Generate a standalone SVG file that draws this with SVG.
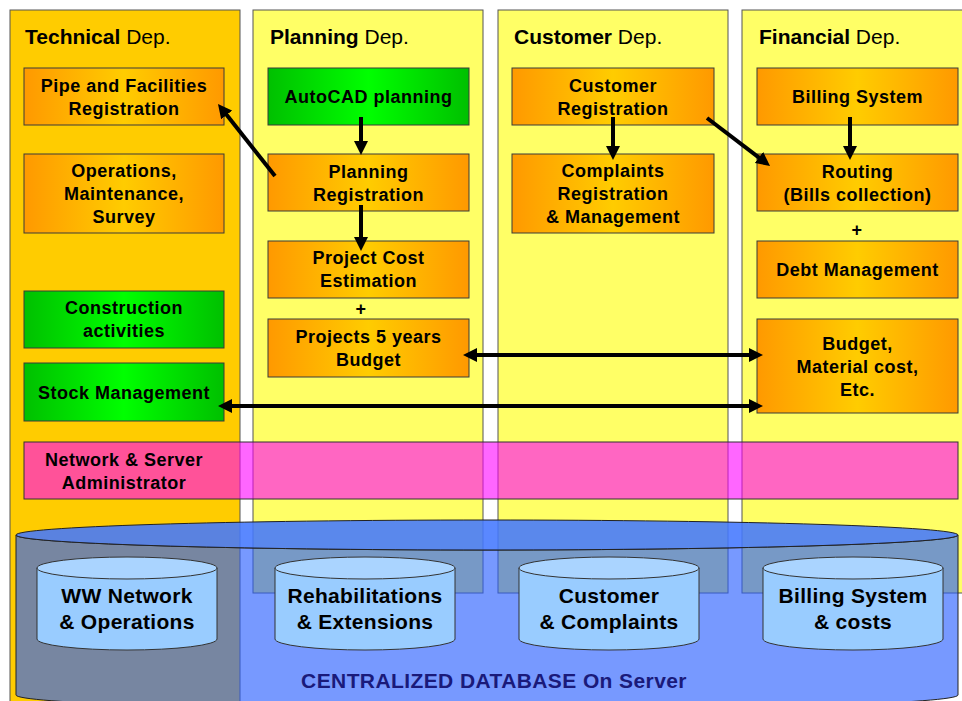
<svg xmlns="http://www.w3.org/2000/svg" width="962" height="701" viewBox="0 0 962 701">
<defs>
<linearGradient id="gOr" x1="0" y1="0" x2="1" y2="0">
<stop offset="0" stop-color="#FF9900"/><stop offset="0.5" stop-color="#FFCC00"/><stop offset="1" stop-color="#FF9900"/>
</linearGradient>
<linearGradient id="gGr" x1="0" y1="0" x2="1" y2="0">
<stop offset="0" stop-color="#00C000"/><stop offset="0.5" stop-color="#00FF00"/><stop offset="1" stop-color="#00C000"/>
</linearGradient>
<marker id="ah" markerUnits="userSpaceOnUse" markerWidth="14" markerHeight="14" viewBox="0 0 14 14" refX="3" refY="7" orient="auto-start-reverse">
<path d="M0,0 L14,7 L0,14 Z" fill="#000"/>
</marker>
<style>
.col{stroke:#555;stroke-width:1}
.box{stroke:#3a3a3a;stroke-width:1}
.or{fill:url(#gOr)}
.gr{fill:url(#gGr)}
.t{font-family:"Liberation Sans",Arial,sans-serif;font-weight:bold;font-size:18px;letter-spacing:0.5px;fill:#000;text-anchor:middle}
.h{font-family:"Liberation Sans",Arial,sans-serif;font-size:21px;fill:#000}
.h .b{font-weight:bold}
.db{font-family:"Liberation Sans",Arial,sans-serif;font-weight:bold;font-size:21px;letter-spacing:0.3px;fill:#000;text-anchor:middle}
.cen{font-family:"Liberation Sans",Arial,sans-serif;font-weight:bold;font-size:21px;letter-spacing:0.4px;fill:#1A1A7A;text-anchor:middle}
.arr{stroke:#000;stroke-width:4;fill:none}
.cyl{fill:#99CCFF;stroke:#333;stroke-width:1}
.cylt{fill:#AAD4FF;stroke:#333;stroke-width:1}
</style>
</defs>
<rect width="962" height="701" fill="#fff"/>

<g id="columns">
<rect id="col-technical" class="col" x="10" y="10" width="230" height="700" fill="#FFCC00"/>
<rect id="col-planning" class="col" x="253" y="10" width="230" height="583" fill="#FFFF66"/>
<rect id="col-customer" class="col" x="498" y="10" width="230" height="583" fill="#FFFF66"/>
<rect id="col-financial" class="col" x="742" y="10" width="230" height="583" fill="#FFFF66"/>
<text class="h" x="25" y="44"><tspan class="b">Technical</tspan> Dep.</text>
<text class="h" x="270" y="44"><tspan class="b">Planning</tspan> Dep.</text>
<text class="h" x="514" y="44"><tspan class="b">Customer</tspan> Dep.</text>
<text class="h" x="759" y="44"><tspan class="b">Financial</tspan> Dep.</text>
</g>

<g id="n-pipe"><rect class="box or" x="24" y="68" width="200" height="57"/>
<text class="t" x="124" y="91.5">Pipe and Facilities</text><text class="t" x="124" y="114.5">Registration</text></g>
<g id="n-operations"><rect class="box or" x="24" y="154" width="200" height="79"/>
<text class="t" x="124" y="177">Operations,</text><text class="t" x="124" y="200">Maintenance,</text><text class="t" x="124" y="223">Survey</text></g>
<g id="n-construction"><rect class="box gr" x="24" y="291" width="200" height="57"/>
<text class="t" x="124" y="314">Construction</text><text class="t" x="124" y="337">activities</text></g>
<g id="n-stock"><rect class="box gr" x="24" y="363" width="200" height="58"/>
<text class="t" x="124" y="398.5">Stock Management</text></g>

<g id="n-autocad"><rect class="box gr" x="268" y="68" width="201" height="57"/>
<text class="t" x="368.5" y="103">AutoCAD planning</text></g>
<g id="n-planreg"><rect class="box or" x="268" y="154" width="201" height="57"/>
<text class="t" x="368.5" y="177.5">Planning</text><text class="t" x="368.5" y="200.5">Registration</text></g>
<g id="n-projcost"><rect class="box or" x="268" y="241" width="201" height="57"/>
<text class="t" x="368.5" y="264">Project Cost</text><text class="t" x="368.5" y="287">Estimation</text></g>
<text class="t" x="361" y="315">+</text>
<g id="n-proj5"><rect class="box or" x="268" y="319" width="201" height="58"/>
<text class="t" x="368.5" y="343">Projects 5 years</text><text class="t" x="368.5" y="366">Budget</text></g>

<g id="n-custreg"><rect class="box or" x="512" y="68" width="202" height="57"/>
<text class="t" x="613" y="91.5">Customer</text><text class="t" x="613" y="114.5">Registration</text></g>
<g id="n-complaints"><rect class="box or" x="512" y="154" width="202" height="79"/>
<text class="t" x="613" y="177">Complaints</text><text class="t" x="613" y="200">Registration</text><text class="t" x="613" y="223">&amp; Management</text></g>

<g id="n-billing"><rect class="box or" x="757" y="68" width="201" height="57"/>
<text class="t" x="857.5" y="103">Billing System</text></g>
<g id="n-routing"><rect class="box or" x="757" y="154" width="201" height="57"/>
<text class="t" x="857.5" y="177.5">Routing</text><text class="t" x="857.5" y="200.5">(Bills collection)</text></g>
<text class="t" x="857" y="236">+</text>
<g id="n-debt"><rect class="box or" x="757" y="241" width="201" height="57"/>
<text class="t" x="857.5" y="276">Debt Management</text></g>
<g id="n-budget"><rect class="box or" x="757" y="319" width="201" height="94"/>
<text class="t" x="857.5" y="349.5">Budget,</text><text class="t" x="857.5" y="372.5">Material cost,</text><text class="t" x="857.5" y="395.5">Etc.</text></g>

<g id="connectors">
<line class="arr" x1="361" y1="117" x2="361" y2="144" marker-end="url(#ah)"/>
<line class="arr" x1="361" y1="205" x2="361" y2="240" marker-end="url(#ah)"/>
<line class="arr" x1="275" y1="176" x2="224.8" y2="112.6" marker-end="url(#ah)"/>
<line class="arr" x1="613" y1="117" x2="613" y2="149" marker-end="url(#ah)"/>
<line class="arr" x1="707" y1="118" x2="761.3" y2="159.3" marker-end="url(#ah)"/>
<line class="arr" x1="850" y1="117" x2="850" y2="149" marker-end="url(#ah)"/>
<line class="arr" x1="474" y1="355" x2="752" y2="355" marker-start="url(#ah)" marker-end="url(#ah)"/>
<line class="arr" x1="229" y1="406" x2="752" y2="406" marker-start="url(#ah)" marker-end="url(#ah)"/>
</g>

<g id="n-network-admin">
<rect x="24" y="442" width="934" height="57" fill="#FF00FF" fill-opacity="0.6" stroke="#333" stroke-width="1"/>
<text class="t" x="124" y="466">Network &amp; Server</text><text class="t" x="124" y="489">Administrator</text>
</g>

<g id="n-central-db">
<path d="M16,535 L16,695 A471,15 0 0 0 958,695 L958,535 A471,15 0 0 1 16,535 Z" fill="rgb(40,94,255)" fill-opacity="0.63" stroke="#222" stroke-width="1"/>
<ellipse cx="487" cy="535" rx="471" ry="15" fill="rgb(67,120,255)" fill-opacity="0.88" stroke="#222" stroke-width="1"/>
<text class="cen" x="494" y="688">CENTRALIZED DATABASE On Server</text>
</g>

<g id="n-db-ww">
<path class="cyl" d="M37,568 L37,639 A90,11 0 0 0 217,639 L217,568 Z"/>
<ellipse class="cylt" cx="127" cy="568" rx="90" ry="11"/>
<text class="db" x="127" y="603">WW Network</text><text class="db" x="127" y="629">&amp; Operations</text>
</g>
<g id="n-db-rehab">
<path class="cyl" d="M275,568 L275,639 A90,11 0 0 0 455,639 L455,568 Z"/>
<ellipse class="cylt" cx="365" cy="568" rx="90" ry="11"/>
<text class="db" x="365" y="603">Rehabilitations</text><text class="db" x="365" y="629">&amp; Extensions</text>
</g>
<g id="n-db-customer">
<path class="cyl" d="M519,568 L519,639 A90,11 0 0 0 699,639 L699,568 Z"/>
<ellipse class="cylt" cx="609" cy="568" rx="90" ry="11"/>
<text class="db" x="609" y="603">Customer</text><text class="db" x="609" y="629">&amp; Complaints</text>
</g>
<g id="n-db-billing">
<path class="cyl" d="M763,568 L763,639 A90,11 0 0 0 943,639 L943,568 Z"/>
<ellipse class="cylt" cx="853" cy="568" rx="90" ry="11"/>
<text class="db" x="853" y="603">Billing System</text><text class="db" x="853" y="629">&amp; costs</text>
</g>
</svg>
